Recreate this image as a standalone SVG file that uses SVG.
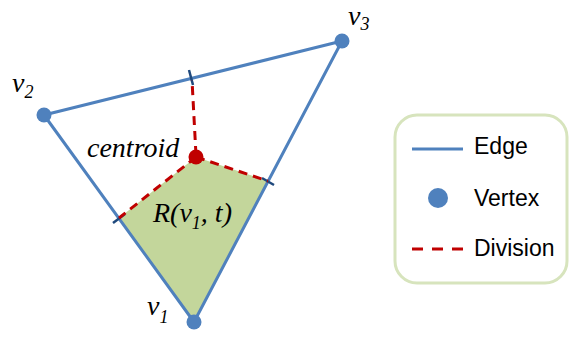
<svg xmlns="http://www.w3.org/2000/svg" width="571" height="338" viewBox="0 0 571 338">
<style>
.edge{stroke:#4f81bd;stroke-width:3;fill:none;stroke-linecap:round}
.tick{stroke:#1f497d;stroke-width:2.5}
.div{stroke:#c00000;stroke-width:3;fill:none;stroke-dasharray:9 6}
.vert{fill:#4f81bd}
.lbl{font-family:"Liberation Serif",serif;font-style:italic;font-size:28px;fill:#000}
.sub{font-size:18px}
.leg{font-family:"Liberation Sans",Arial,sans-serif;font-size:23px;fill:#000}
</style>
<rect width="571" height="338" fill="#fff"/>
<g id="region">
<polygon points="194,322 119,218 196,157 268,181" fill="#c3d69b"/>
</g>
<g id="connectors">
<line class="edge" x1="194" y1="322" x2="44" y2="115"/>
<line class="edge" x1="44" y1="115" x2="342" y2="41"/>
<line class="edge" x1="342" y1="41" x2="194" y2="322"/>
<line class="tick" x1="189" y1="70" x2="193" y2="85"/>
<line class="tick" x1="113" y1="223" x2="125" y2="214"/>
<line class="tick" x1="262" y1="178" x2="274" y2="185"/>
<line class="div" x1="196" y1="155" x2="192" y2="80"/>
<line class="div" x1="196" y1="157" x2="119" y2="218"/>
<line class="div" x1="196" y1="157" x2="268" y2="181"/>
</g>
<g id="v1"><circle class="vert" cx="194" cy="322" r="7.5"/><text class="lbl" x="147" y="315">v<tspan class="sub" dy="8">1</tspan></text></g>
<g id="v2"><circle class="vert" cx="44" cy="115" r="7.5"/><text class="lbl" x="12" y="92">v<tspan class="sub" dy="6">2</tspan></text></g>
<g id="v3"><circle class="vert" cx="342" cy="41" r="7.5"/><text class="lbl" x="348" y="25">v<tspan class="sub" dy="5">3</tspan></text></g>
<g id="centroid"><circle cx="196" cy="157" r="7.5" fill="#c00000"/><text class="lbl" x="87" y="157">centroid</text></g>
<g id="label-region"><text class="lbl" x="153" y="222">R(v<tspan class="sub" dy="7">1</tspan><tspan dy="-7">, t)</tspan></text></g>
<g id="legend">
<rect x="395" y="115" width="172" height="168" rx="22" fill="#fff" stroke="#d7e4bd" stroke-width="3"/>
<line class="edge" x1="412" y1="149" x2="463" y2="149" style="stroke-linecap:butt"/>
<text class="leg" x="474" y="154">Edge</text>
<circle class="vert" cx="438" cy="198" r="10"/>
<text class="leg" x="474" y="206">Vertex</text>
<line x1="412" y1="249" x2="463" y2="249" stroke="#c00000" stroke-width="3" stroke-dasharray="11 9"/>
<text class="leg" x="474" y="256">Division</text>
</g>
</svg>
